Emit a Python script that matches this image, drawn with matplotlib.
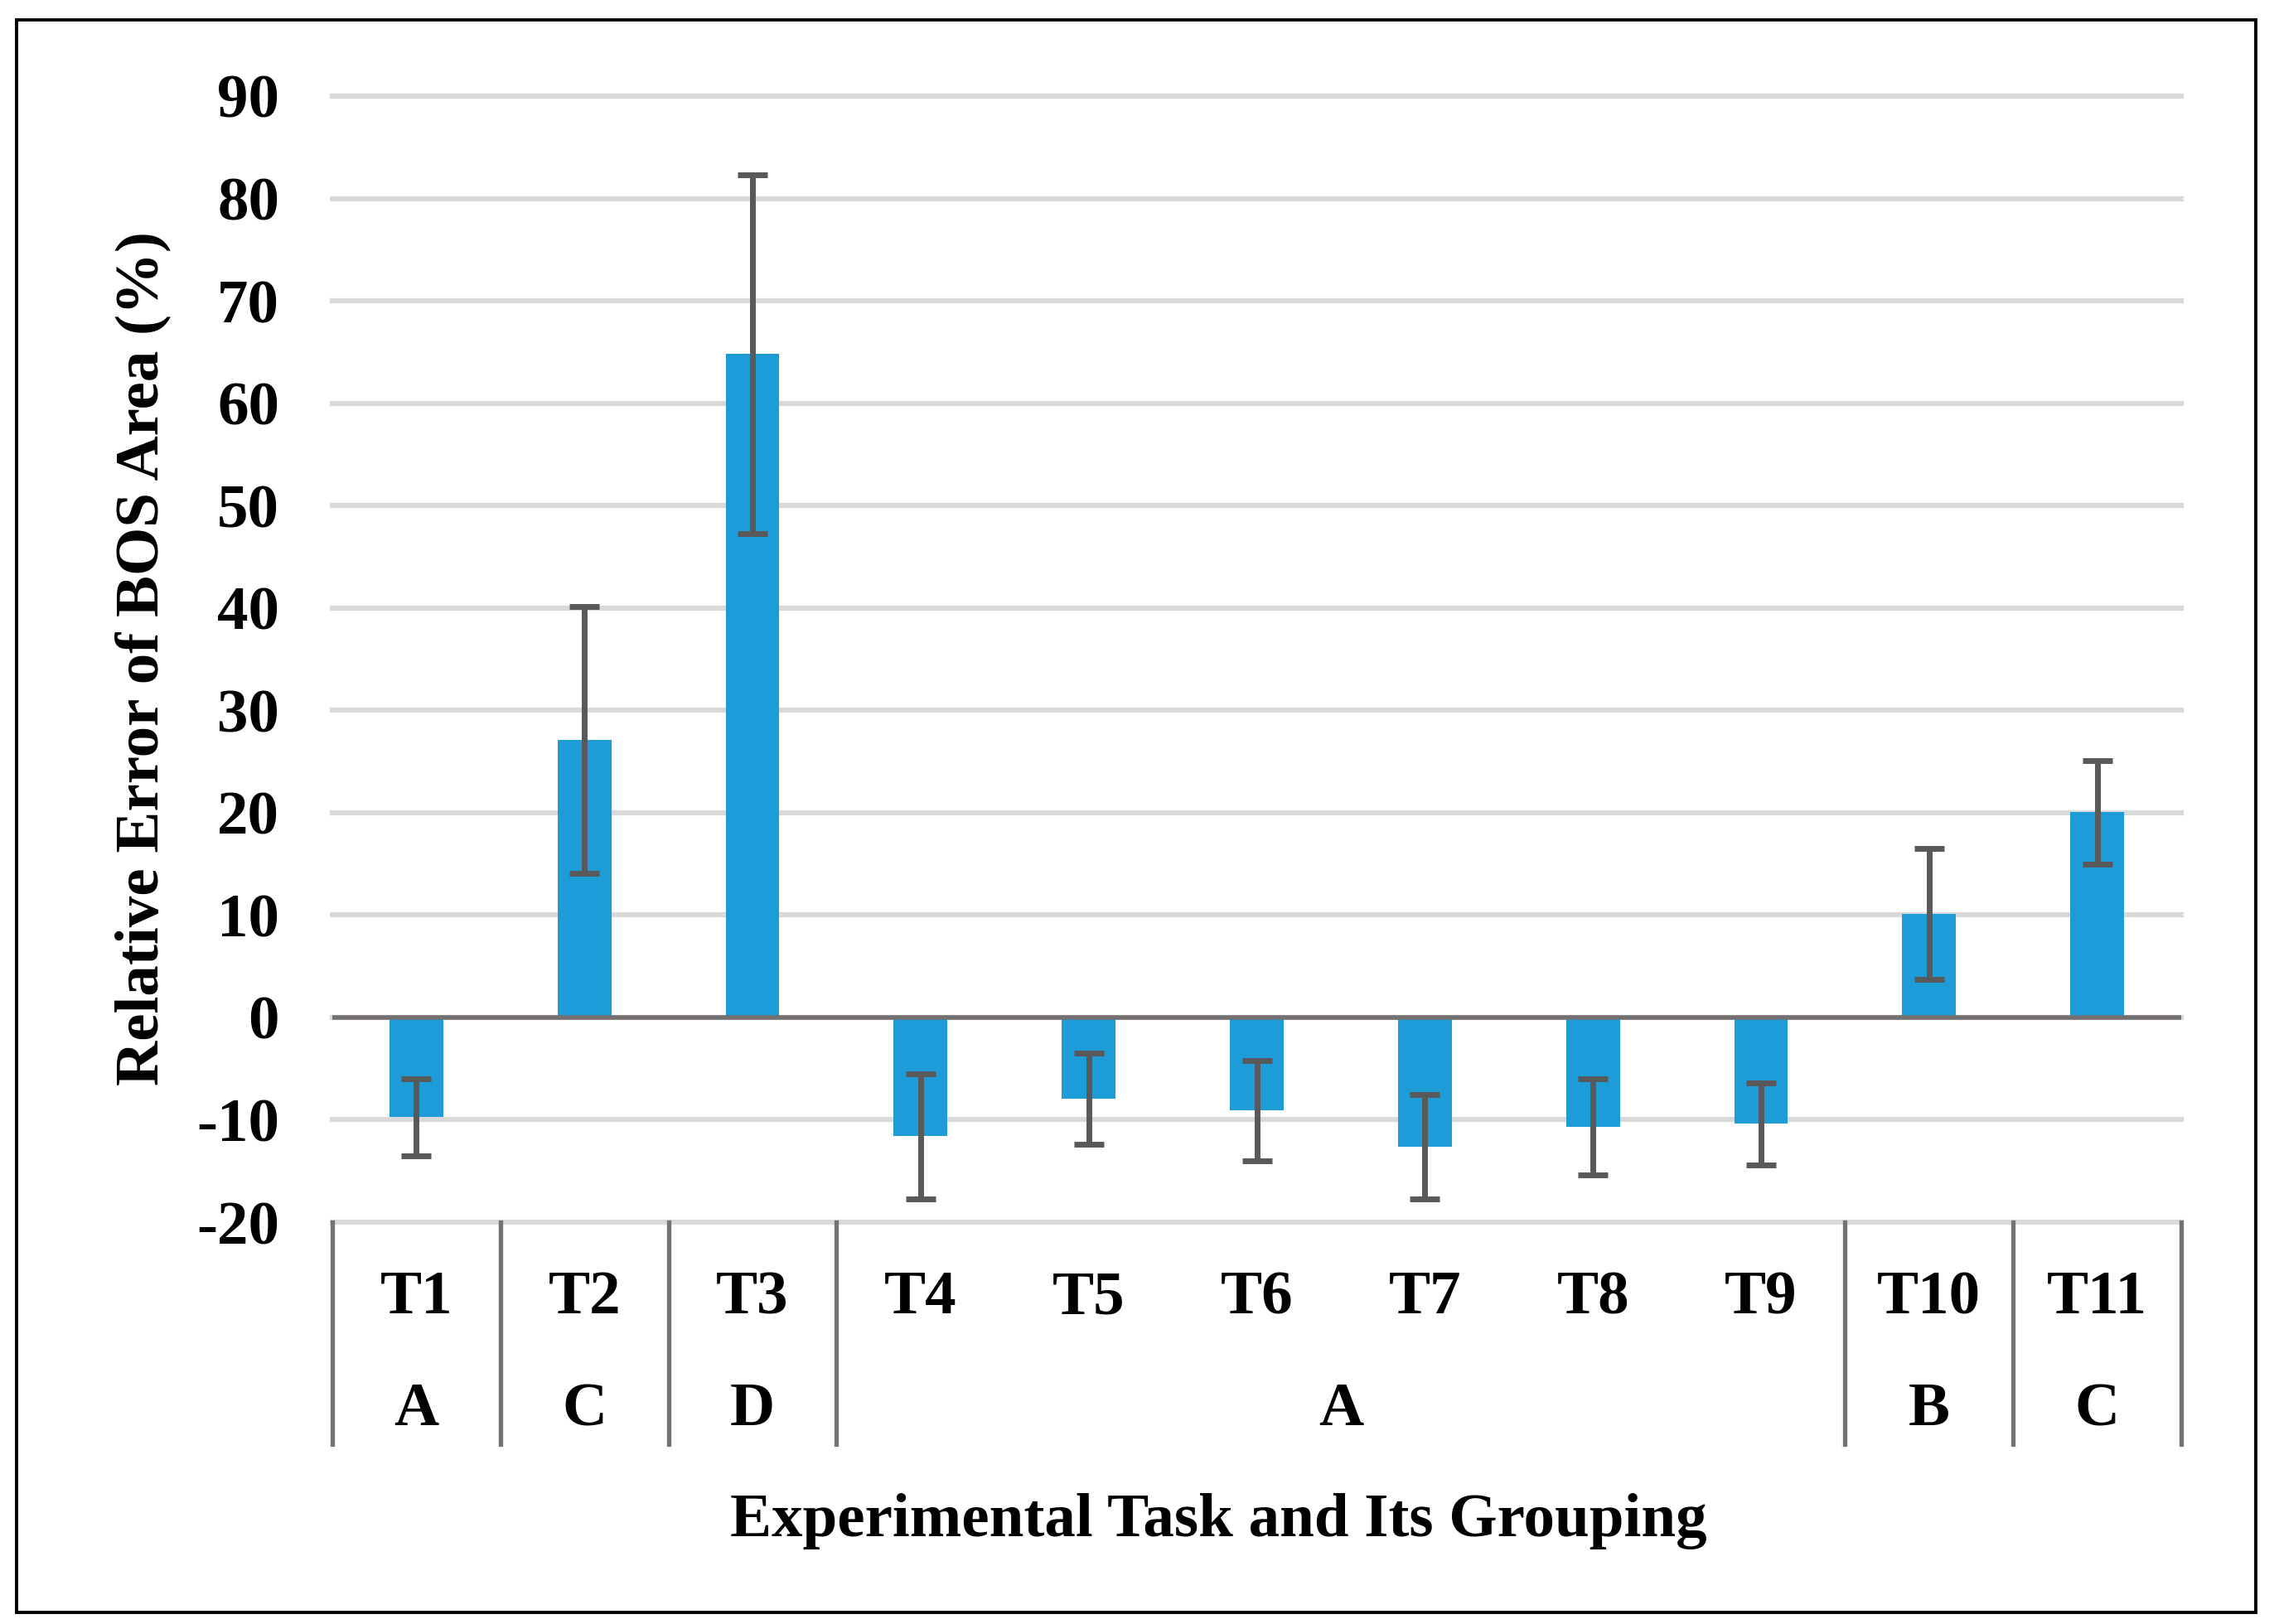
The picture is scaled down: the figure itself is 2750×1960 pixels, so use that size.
import matplotlib
matplotlib.use('Agg')
import matplotlib.pyplot as plt
import numpy as np

# data
tasks = ['T1', 'T2', 'T3', 'T4', 'T5', 'T6', 'T7', 'T8', 'T9', 'T10', 'T11']
rel_error = [-9.75, 27.1, 64.8, -11.6, -7.95, -9.1, -12.6, -10.7, -10.4, 10.1, 20.05]
err = [3.75, 13.0, 17.5, 6.1, 4.45, 4.9, 5.1, 4.7, 4.0, 6.4, 5.05]
group_names = ['A', 'C', 'D', 'A', 'B', 'C']
group_sizes = [1, 1, 1, 6, 1, 1]
y_ticks = [-20, -10, 0, 10, 20, 30, 40, 50, 60, 70, 80, 90]

plt.rcParams['font.family'] = ['Liberation Serif', 'DejaVu Serif']
plt.rcParams['font.weight'] = 'bold'
fs = 54

W, H = 2750, 1960
fig = plt.figure(figsize=(W / 100, H / 100), dpi=100)

# axes box in pixels (left, top, right, bottom)
L, T, R, B = 401, 116, 2632, 1475
ax = fig.add_axes([L / W, 1 - B / H, (R - L) / W, (B - T) / H])

x = np.arange(len(tasks))
ax.bar(x, rel_error, width=0.32, color='#1E9CD8', zorder=3)
ax.errorbar(x, rel_error, yerr=err, fmt='none', ecolor='#595959',
            elinewidth=5, capsize=13, capthick=5, zorder=4)

ax.set_xlim(-0.5, len(tasks) - 0.5)
ax.set_ylim(-20, 90)
ax.set_yticks(y_ticks)
ax.set_yticklabels([str(v) for v in y_ticks], fontsize=fs, fontweight='bold')
ax.tick_params(axis='y', length=0, pad=46)
ax.set_xticks([])
for s in ax.spines.values():
    s.set_visible(False)

ax.yaxis.grid(True, color='#D9D9D9', linewidth=4.5, zorder=0)
for gl in ax.get_ygridlines():
    gl.set_clip_on(False)
ax.axhline(0, color='#767171', linewidth=4, zorder=5)

# category axis: task labels, group labels and separators
tr = ax.get_xaxis_transform()
ax_h = B - T
sep_bottom = -(1743 - B) / ax_h
for i, t in enumerate(tasks):
    ax.text(i, -(1567 - B) / ax_h, t, transform=tr, ha='center', va='center',
            fontsize=fs, fontweight='bold')

edges = np.concatenate([[0], np.cumsum(group_sizes)]) - 0.5
for e in edges:
    ax.plot([e, e], [0, sep_bottom], transform=tr, color='#767171',
            linewidth=3.8, clip_on=False, zorder=2)
for name, a, b in zip(group_names, edges[:-1], edges[1:]):
    ax.text((a + b) / 2, -(1702 - B) / ax_h, name, transform=tr, ha='center',
            va='center', fontsize=fs, fontweight='bold')

fig.text(1470 / W, 1 - 1836 / H, 'Experimental Task and Its Grouping',
         ha='center', va='center', fontsize=fs, fontweight='bold')
fig.text(172 / W, 1 - 795 / H, 'Relative Error of BOS Area (%)',
         ha='center', va='center', rotation=90, fontsize=fs, fontweight='bold')

# outer frame
fig.add_artist(plt.Rectangle((20 / W, 1 - 1946 / H), (2722 - 20) / W,
                             (1946 - 24) / H, transform=fig.transFigure,
                             fill=False, edgecolor='black', linewidth=2.8))

fig.savefig('out.png', dpi=100)
